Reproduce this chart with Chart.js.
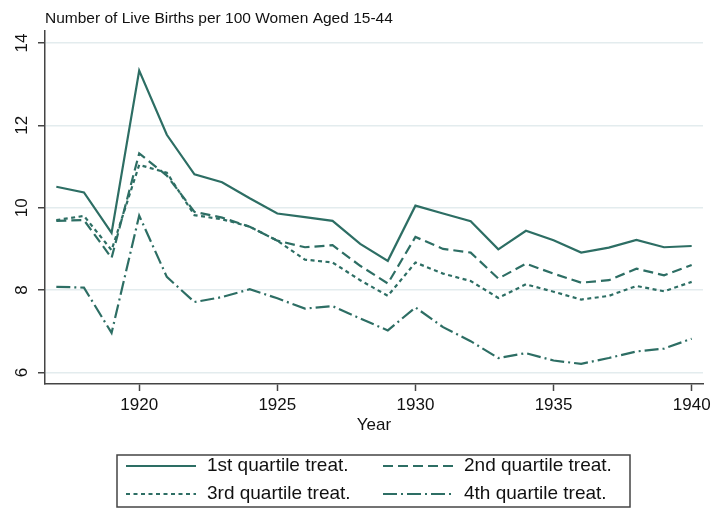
<!DOCTYPE html>
<html>
<head>
<meta charset="utf-8">
<script src="https://cdn.jsdelivr.net/npm/chart.js@4.4.1/dist/chart.umd.min.js"></script>
<style>
  html, body { margin: 0; padding: 0; background: #fff; }
</style>
</head>
<body>
<canvas id="LiveBirths" width="716" height="510"></canvas>
<script>
// Live births per 100 women aged 15-44, by treatment quartile
var years = [1917, 1918, 1919, 1920, 1921, 1922, 1923, 1924, 1925, 1926, 1927, 1928,
             1929, 1930, 1931, 1932, 1933, 1934, 1935, 1936, 1937, 1938, 1939, 1940];
var q1 = [10.51, 10.37, 9.39, 13.33, 11.77, 10.81, 10.62, 10.23, 9.86, 9.77, 9.68, 9.12,
          8.71, 10.05, 9.86, 9.67, 8.99, 9.44, 9.21, 8.91, 9.03, 9.22, 9.04, 9.07];
var q2 = [9.68, 9.70, 8.78, 11.32, 10.78, 9.90, 9.76, 9.54, 9.20, 9.04, 9.09, 8.59,
          8.16, 9.29, 9.00, 8.91, 8.28, 8.64, 8.40, 8.18, 8.24, 8.52, 8.36, 8.61];
var q3 = [9.70, 9.80, 8.97, 11.04, 10.85, 9.82, 9.72, 9.54, 9.20, 8.74, 8.67, 8.24,
          7.86, 8.67, 8.40, 8.22, 7.81, 8.14, 7.96, 7.77, 7.86, 8.10, 7.97, 8.20];
var q4 = [8.08, 8.06, 6.96, 9.81, 8.32, 7.71, 7.83, 8.02, 7.80, 7.55, 7.61, 7.31,
          7.02, 7.58, 7.10, 6.76, 6.35, 6.47, 6.29, 6.21, 6.35, 6.51, 6.58, 6.82];
var seriesNames = ["1st quartile treat.", "2nd quartile treat.", "3rd quartile treat.", "4th quartile treat."];
var xTicks = [1920, 1925, 1930, 1935, 1940];
var yTicks = [6, 8, 10, 12, 14];

var lineColor = "#2d6e64";
var axisColor = "#444";

Chart.defaults.font.family = "'Liberation Sans', Arial, Helvetica, sans-serif";
Chart.defaults.color = "#111";

function toPoints(vals) {
  return vals.map(function(v, i) { return { x: years[i], y: v }; });
}

function makeSet(idx, vals, dash) {
  return {
    label: seriesNames[idx],
    data: toPoints(vals),
    fill: false,
    borderColor: lineColor,
    backgroundColor: lineColor,
    borderWidth: 2.2,
    borderDash: dash,
    pointRadius: 0,
    tension: 0,
  };
}

// y tick labels are drawn turned on their side, like the Stata original
var sideLabels = {
  id: "sideLabels",
  afterDraw: function(chart) {
    var ctx = chart.ctx;
    var scale = chart.scales.y;
    ctx.save();
    ctx.font = "17px " + Chart.defaults.font.family;
    ctx.fillStyle = "#111";
    ctx.textAlign = "center";
    ctx.textBaseline = "middle";
    scale.ticks.forEach(function(t) {
      var py = scale.getPixelForValue(t.value);
      ctx.save();
      ctx.translate(22, py);
      ctx.rotate(-Math.PI / 2);
      ctx.fillText(String(t.value), 0, 0);
      ctx.restore();
    });
    ctx.restore();
  }
};

// boxed two-column legend under the plot
var boxLegend = {
  id: "boxLegend",
  afterDraw: function(chart) {
    var ctx = chart.ctx;
    var box = { left: 117, top: 455, width: 513, height: 52 };
    var colX = [126, 383];
    var rowY = [466, 494];
    var sample = 70;
    ctx.save();
    ctx.strokeStyle = axisColor;
    ctx.lineWidth = 1.5;
    ctx.strokeRect(box.left, box.top, box.width, box.height);
    ctx.font = "19px " + Chart.defaults.font.family;
    ctx.textAlign = "left";
    ctx.textBaseline = "middle";
    chart.data.datasets.forEach(function(ds, i) {
      var x = colX[i % 2];
      var y = rowY[Math.floor(i / 2)];
      ctx.strokeStyle = ds.borderColor;
      ctx.lineWidth = ds.borderWidth;
      ctx.setLineDash(ds.borderDash || []);
      ctx.beginPath();
      ctx.moveTo(x, y);
      ctx.lineTo(x + sample, y);
      ctx.stroke();
      ctx.setLineDash([]);
      ctx.fillStyle = "#111";
      ctx.fillText(ds.label, x + sample + 11, y);
    });
    ctx.restore();
  }
};

var ctx = document.getElementById("LiveBirths").getContext("2d");
var myChart = new Chart(ctx, {
  type: "line",
  data: {
    datasets: [
      makeSet(0, q1, []),
      makeSet(1, q2, [10, 5]),
      makeSet(2, q3, [4, 3.5]),
      makeSet(3, q4, [14, 4, 2, 4]),
    ],
  },
  options: {
    responsive: false,
    animation: false,
    layout: { padding: { left: 0, right: 13, top: 0, bottom: 70 } },
    plugins: {
      legend: { display: false },
      tooltip: { enabled: false },
      title: {
        display: true,
        text: "Number of Live Births per 100 Women Aged 15-44",
        align: "start",
        fullSize: false,
        color: "#111",
        font: { size: 15.5, weight: "normal" },
        padding: { top: 9, bottom: 3 },
      },
    },
    scales: {
      x: {
        type: "linear",
        min: 1916.59,
        max: 1940.41,
        afterBuildTicks: function(axis) {
          axis.ticks = xTicks.map(function(v) { return { value: v }; });
        },
        afterFit: function(axis) { axis.height = 56; },
        ticks: {
          callback: function(v) { return String(v); },
          font: { size: 17 },
          color: "#111",
          padding: 4,
          maxRotation: 0,
          autoSkip: false,
        },
        grid: {
          drawOnChartArea: false,
          drawTicks: true,
          tickLength: 7,
          tickColor: axisColor,
          tickWidth: 1.5,
        },
        border: { color: axisColor, width: 1.5 },
        title: {
          display: true,
          text: "Year",
          color: "#111",
          font: { size: 17 },
          padding: { top: 0, bottom: 4 },
        },
      },
      y: {
        min: 5.72,
        max: 14.3,
        afterBuildTicks: function(axis) {
          axis.ticks = yTicks.map(function(v) { return { value: v }; });
        },
        afterFit: function(axis) { axis.width = 45; },
        ticks: { display: false },
        grid: {
          color: "#e3ecee",
          lineWidth: 1.5,
          drawTicks: true,
          tickLength: 7,
          tickColor: axisColor,
          tickWidth: 1.5,
        },
        border: { color: axisColor, width: 1.5 },
      },
    },
  },
  plugins: [sideLabels, boxLegend],
});
</script>
</body>
</html>
